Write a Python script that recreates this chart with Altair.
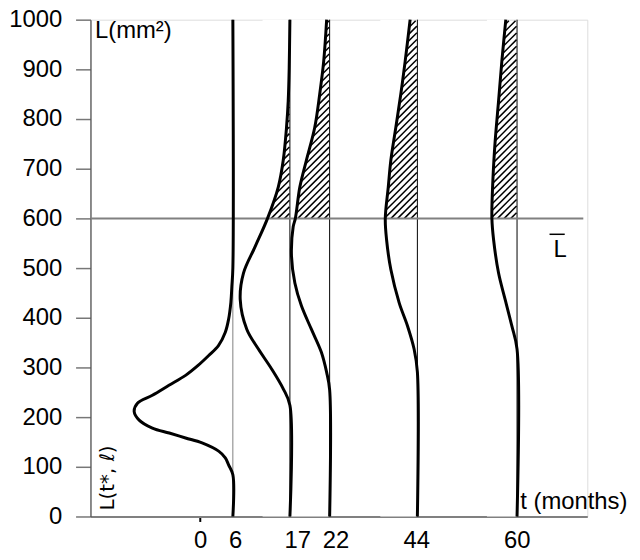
import math
import altair as alt
import pandas as pd

# ---------------- data ----------------
y_ticks = list(range(0, 1001, 100))
t_labels = ["0", "6", "17", "22", "44", "60"]
t_label_pos = [110.3, 145.7, 208.0, 246.5, 327.8, 429.0]   # schematic axis positions

curve_t = ["6", "17", "22", "44", "60"]
curve_base = [143.3, 200.7, 240.7, 329.0, 429.3]           # schematic position of each t

L_6 = [0, 84, 104, 118, 131, 148, 158, 168, 178, 194, 211, 228, 244, 264, 284, 304, 324, 344, 371, 397, 431, 463, 500, 1000]
d_6 = [0, 0, 4.3, 7.6, 14, 31, 47.6, 64, 81, 94.3, 99.3, 96, 81, 64.3, 47.6, 35, 24.3, 14.5, 7.6, 4.3, 2, 1, 0, 0]

L_17 = [0, 224, 257, 297, 337, 377, 437, 490, 543, 600, 663, 717, 783, 836, 903, 1000]
d_17 = [0, 0, 6.7, 18.4, 31.7, 43.4, 50, 46.7, 35, 22.5, 11.7, 6.7, 3.4, 1.7, 0.7, 0]

L_22 = [0, 255, 290, 331, 377, 424, 470, 524, 583, 600, 663, 717, 783, 850, 916, 1000]
d_22 = [0, 0, 3.0, 8.4, 18.4, 28.4, 35, 38.4, 36.7, 34.5, 30, 23.4, 15, 10, 6, 3]

L_44 = [0, 291, 337, 384, 430, 497, 557, 600, 663, 717, 783, 850, 916, 1000]
d_44 = [0, 0, 3.3, 10, 18.3, 26.7, 31, 32.3, 29.3, 26.7, 21.7, 16.7, 12.3, 7.3]

L_60 = [0, 337, 384, 437, 490, 557, 600, 677, 756, 836, 916, 1000]
d_60 = [0, 0, 5.3, 12, 18.6, 23.6, 25.3, 24.3, 22, 18.6, 15.3, 11.3]

hatched_t = ["17", "22", "44", "60"]
L_bar = 600

# ---------------- layout ----------------
W, H = 500, 500
X_MAX, Y_MAX = 500, 1000
PX_PER_L = H / Y_MAX
FONT = "Liberation Sans"
HATCH_STEP = 6.7
INTERP = "catmull-rom"

curve_L = [L_6, L_17, L_22, L_44, L_60]
curve_d = [d_6, d_17, d_22, d_44, d_60]

rows = []
hatch_rows = []
for t, b, Ls, ds in zip(curve_t, curve_base, curve_L, curve_d):
    xa = None
    if t in hatched_t:
        maxoff = max(d for L, d in zip(Ls, ds) if L >= L_bar)
        xa = b - maxoff - 2
        xb = b - 0.5
        ymin = 1.0
        ymax = (Y_MAX - L_bar) * PX_PER_L
        n0 = math.ceil((xa + ymin) / HATCH_STEP)
        n1 = math.floor((xb + ymax) / HATCH_STEP)
        for n in range(n0, n1 + 1):
            k = n * HATCH_STEP
            X1 = max(xa, k - ymax)
            X2 = min(xb, k - ymin)
            if X2 - X1 < 0.5:
                continue
            Y1, Y2 = k - X1, k - X2
            hatch_rows.append({"t": t, "x": X1, "x2": X2,
                               "L": Y_MAX - Y1 / PX_PER_L, "L2": Y_MAX - Y2 / PX_PER_L})
        xa = xa - 3   # mask reaches a little further than the hatch
    for L, d in zip(Ls, ds):
        rows.append({"t": t, "L": L, "x": b - d, "xa": xa, "hatched": t in hatched_t})

curves = pd.DataFrame(rows)
hatch = pd.DataFrame(hatch_rows)
bases = pd.DataFrame({"t": curve_t, "x": curve_base, "L0": 0, "L1": Y_MAX})

label_expr = " : ".join(f"datum.value == {p} ? '{lab}'" for p, lab in zip(t_label_pos, t_labels)) + " : ''"

x_scale = alt.Scale(domain=[0, X_MAX], nice=False, zero=False)
y_scale = alt.Scale(domain=[0, Y_MAX], nice=False, zero=False)

x_axis = alt.Axis(values=t_label_pos, labelExpr=label_expr, title=None, grid=False,
                  labelFont=FONT, labelFontSize=24, labelColor="black",
                  domainColor="#808080", domainWidth=2,
                  tickSize=5, tickWidth=2, tickColor="black",
                  tickOpacity={"condition": {"test": f"datum.value == {t_label_pos[0]}", "value": 1}, "value": 0},
                  labelPadding=7, labelFlush=False, labelOverlap=False)
y_axis = alt.Axis(values=y_ticks, format="d", title=None, grid=False,
                  labelFont=FONT, labelFontSize=24, labelColor="black",
                  domainColor="#555555", domainWidth=1.3,
                  tickSize=15, tickWidth=1.5, tickColor="#777777",
                  labelPadding=14)

base = alt.Chart(curves)

hatch_layer = alt.Chart(hatch).mark_rule(color="black", strokeWidth=1.5).encode(
    x=alt.X("x:Q", scale=x_scale, axis=x_axis),
    x2="x2:Q",
    y=alt.Y("L:Q", scale=y_scale, axis=y_axis),
    y2="L2:Q",
)

mask_layer = base.transform_filter("datum.hatched").mark_area(
    orient="horizontal", interpolate=INTERP, color="white", opacity=1
).encode(
    x=alt.X("x:Q", scale=x_scale),
    x2="xa:Q",
    y=alt.Y("L:Q", scale=y_scale),
    detail="t:N",
)

vlines = alt.Chart(bases).mark_rule(strokeWidth=1).encode(
    x=alt.X("x:Q", scale=x_scale),
    y=alt.Y("L0:Q", scale=y_scale),
    y2="L1:Q",
    color=alt.condition(alt.datum.t == "6", alt.value("#808080"), alt.value("black")),
)

lbar = alt.Chart(pd.DataFrame({"L": [L_bar], "x0": [0], "x1": [496]})).mark_rule(
    color="#808080", strokeWidth=2
).encode(x=alt.X("x0:Q", scale=x_scale), x2="x1:Q", y=alt.Y("L:Q", scale=y_scale))

curve_layer = base.mark_line(color="black", strokeWidth=3, interpolate=INTERP).encode(
    x=alt.X("x:Q", scale=x_scale),
    y=alt.Y("L:Q", scale=y_scale),
    detail="t:N",
    order="L:Q",
)

texts = pd.DataFrame({
    "x": [4.5, 432.5, 466.0],
    "L": [963, 14.6, 521.6],
    "txt": ["L(mm²)", "t (months)", "L"],
})
text_layer = alt.Chart(texts).mark_text(
    font=FONT, fontSize=24, align="left", baseline="alphabetic", color="black"
).encode(x=alt.X("x:Q", scale=x_scale), y=alt.Y("L:Q", scale=y_scale), text="txt:N")

overline = alt.Chart(pd.DataFrame({"x0": [462.0], "x1": [477.3], "L": [568]})).mark_rule(
    color="black", strokeWidth=1.5
).encode(x=alt.X("x0:Q", scale=x_scale), x2="x1:Q", y=alt.Y("L:Q", scale=y_scale))

rot = alt.Chart(pd.DataFrame({"x": [23.3], "L": [12], "txt": ["L(t*, ℓ)"]})).mark_text(
    font="DejaVu Sans", fontSize=20, align="left", baseline="alphabetic", angle=270, color="black"
).encode(x=alt.X("x:Q", scale=x_scale), y=alt.Y("L:Q", scale=y_scale), text="txt:N")

chart = alt.layer(
    hatch_layer, mask_layer, vlines, lbar, curve_layer, text_layer, overline, rot
).properties(
    width=W, height=H,
    autosize=alt.AutoSizeParams(type="none"),
    padding={"left": 83, "top": 10, "right": 45, "bottom": 34},
).configure_view(stroke=None).configure(background="white")

chart.save("out.html", embed_options={"renderer": "svg", "actions": False})
